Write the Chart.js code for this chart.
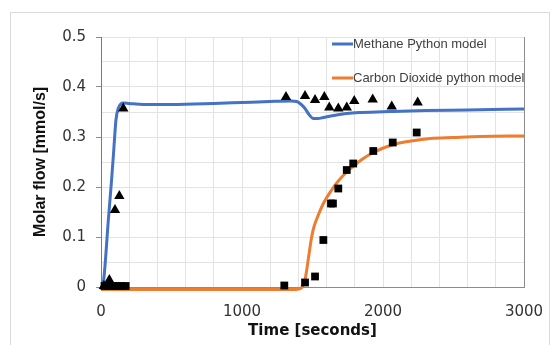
<!DOCTYPE html>
<html>
<head>
<meta charset="utf-8">
<script src="https://cdn.jsdelivr.net/npm/chart.js@4.4.1/dist/chart.umd.min.js"></script>
<style>
  html, body { margin: 0; padding: 0; background: #ffffff; }
  #wrap { position: relative; width: 560px; height: 345px; overflow: hidden; }
  #c { position: absolute; left: 0; top: 0; }
  #frame { position: absolute; left: 10px; top: 12px; width: 538px; height: 360px;
           border: 1px solid #d9d9d9; pointer-events: none; }
</style>
</head>
<body>
<div id="wrap">
  <canvas id="c" width="560" height="345"></canvas>
  <div id="frame"></div>
</div>
<script>
// ---- data ----
const methaneModelTime = [0, 15, 28, 52, 75, 92, 106, 122, 140, 160, 200, 300, 500, 800, 1000, 1200, 1350, 1388, 1420, 1447, 1475, 1506, 1540, 1577, 1650, 1743, 1850, 2050, 2300, 2600, 3000];
const methaneModelFlow = [-0.005, 0.005, 0.041, 0.134, 0.214, 0.28, 0.334, 0.357, 0.366, 0.368, 0.367, 0.365, 0.365, 0.367, 0.369, 0.371, 0.372, 0.371, 0.365, 0.357, 0.345, 0.337, 0.337, 0.339, 0.343, 0.347, 0.349, 0.351, 0.353, 0.354, 0.356];

const co2ModelTime = [0, 500, 1000, 1380, 1420, 1445, 1459, 1475, 1494, 1510, 1530, 1577, 1636, 1683, 1754, 1850, 1931, 2073, 2200, 2333, 2500, 2688, 3000];
const co2ModelFlow = [-0.005, -0.005, -0.005, -0.005, -0.002, 0.012, 0.034, 0.065, 0.10, 0.12, 0.136, 0.167, 0.194, 0.212, 0.233, 0.255, 0.269, 0.285, 0.292, 0.297, 0.299, 0.301, 0.302];

const methaneExpTime = [20, 59, 99, 130, 158, 1312, 1447, 1518, 1584, 1619, 1683, 1743, 1796, 1927, 2062, 2246];
const methaneExpFlow = [0.002, 0.014, 0.154, 0.182, 0.357, 0.380, 0.382, 0.374, 0.380, 0.359, 0.357, 0.359, 0.372, 0.375, 0.361, 0.369];

const co2ExpTime = [25, 55, 85, 115, 145, 175, 1300, 1447, 1518, 1577, 1631, 1645, 1683, 1743, 1789, 1931, 2069, 2239];
const co2ExpFlow = [0.002, 0.002, 0.002, 0.002, 0.002, 0.002, 0.003, 0.009, 0.021, 0.094, 0.167, 0.167, 0.197, 0.234, 0.247, 0.272, 0.289, 0.309];

const seriesNames = ["Methane Python model", "Carbon Dioxide python model"];
const xAxisTitle = "Time [seconds]";
const yAxisTitle = "Molar flow [mmol/s]";

const pts = (xs, ys) => xs.map((x, i) => ({ x: x, y: ys[i] }));

const BLUE = '#4472C4';
const ORANGE = '#ED7D31';

const legendPlugin = {
  id: 'insideLegend',
  afterDraw(chart) {
    const ctx = chart.ctx;
    const items = [
      { label: seriesNames[0], color: BLUE, y: 44 },
      { label: seriesNames[1], color: ORANGE, y: 78 }
    ];
    ctx.save();
    items.forEach(it => {
      ctx.strokeStyle = it.color;
      ctx.lineWidth = 3;
      ctx.beginPath();
      ctx.moveTo(332, it.y);
      ctx.lineTo(353, it.y);
      ctx.stroke();
      ctx.fillStyle = '#404040';
      ctx.font = '13px "Liberation Sans", Arial, sans-serif';
      ctx.textAlign = 'left';
      ctx.textBaseline = 'middle';
      ctx.fillText(it.label, 353, it.y);
    });
    ctx.restore();
  }
};

Chart.defaults.font.family = '"DejaVu Sans", sans-serif';
Chart.defaults.color = '#333333';

new Chart(document.getElementById('c'), {
  type: 'scatter',
  data: {
    datasets: [
      {
        label: 'Methane data',
        data: pts(methaneExpTime, methaneExpFlow),
        pointStyle: 'triangle',
        pointRadius: 6,
        backgroundColor: '#000000',
        borderColor: '#000000',
        borderWidth: 0,
        showLine: false,
        clip: false
      },
      {
        label: 'CO2 data',
        data: pts(co2ExpTime, co2ExpFlow),
        pointStyle: 'rect',
        pointRadius: 5.5,
        backgroundColor: '#000000',
        borderColor: '#000000',
        borderWidth: 0,
        showLine: false,
        clip: false
      },
      {
        label: seriesNames[0],
        data: pts(methaneModelTime, methaneModelFlow),
        showLine: true,
        borderColor: BLUE,
        backgroundColor: BLUE,
        borderWidth: 3,
        pointRadius: 0,
        cubicInterpolationMode: 'monotone',
        clip: false
      },
      {
        label: seriesNames[1],
        data: pts(co2ModelTime, co2ModelFlow),
        showLine: true,
        borderColor: ORANGE,
        backgroundColor: ORANGE,
        borderWidth: 3,
        pointRadius: 0,
        cubicInterpolationMode: 'monotone',
        clip: false
      }
    ]
  },
  options: {
    responsive: false,
    animation: false,
    layout: { padding: { left: 0, top: 37, right: 36, bottom: 0 } },
    plugins: {
      legend: { display: false },
      tooltip: { enabled: false }
    },
    scales: {
      x: {
        type: 'linear',
        min: 0,
        max: 3000,
        afterFit(scale) { scale.height = 58; },
        ticks: {
          stepSize: 200,
          autoSkip: false,
          maxRotation: 0,
          padding: 16,
          font: { size: 15 },
          color: '#333333',
          callback: v => (Math.round(v) % 1000 === 0 ? String(Math.round(v)) : '')
        },
        grid: {
          drawTicks: false,
          color: c => (c.tick && Math.round(c.tick.value) === 3000 ? '#8c8c8c' : '#e3e3e3'),
          lineWidth: 1
        },
        border: { color: '#8c8c8c', width: 1 },
        title: {
          display: true,
          text: xAxisTitle,
          font: { size: 15, weight: 'bold' },
          color: '#111111',
          padding: { top: 0, bottom: 5 }
        }
      },
      y: {
        type: 'linear',
        min: 0,
        max: 0.5,
        afterFit(scale) { scale.width = 101; },
        ticks: {
          stepSize: 0.05,
          autoSkip: false,
          padding: 10,
          font: { size: 15 },
          color: '#333333',
          callback: v => {
            const k = Math.round(v * 20);
            if (k % 2 !== 0) return '';
            return String(Math.round(v * 10) / 10);
          }
        },
        grid: {
          drawTicks: true,
          tickLength: 5,
          color: '#e3e3e3',
          tickColor: c => (c.tick && Math.round(c.tick.value * 20) % 2 === 0 ? '#8c8c8c' : 'rgba(0,0,0,0)'),
          lineWidth: 1
        },
        border: { color: '#7a7a7a', width: 1 },
        title: {
          display: true,
          text: yAxisTitle,
          font: { family: '"Liberation Sans", Arial, sans-serif', size: 16, weight: 'bold' },
          color: '#111111',
          padding: { top: 31, bottom: 0 }
        }
      }
    }
  },
  plugins: [legendPlugin]
});
</script>
</body>
</html>
